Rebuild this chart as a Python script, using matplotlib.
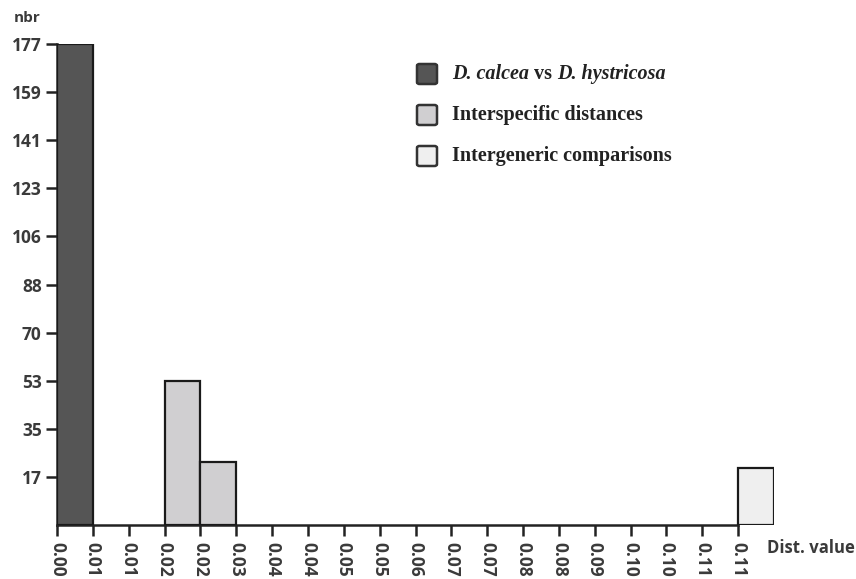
import numpy as np
import matplotlib.pyplot as plt
from matplotlib.patches import FancyBboxPatch

# tick labels of the bin edges (rounded as printed)
edge_labels = ['0.00', '0.01', '0.01', '0.02', '0.02', '0.03', '0.04', '0.04',
               '0.05', '0.05', '0.06', '0.07', '0.07', '0.08', '0.08', '0.09',
               '0.10', '0.10', '0.11', '0.11']

# bins (index of left edge) and number of comparisons per group
calcea_bins = [0]
calcea_nbr = [177]
interspec_bins = [3, 4]
interspec_nbr = [53, 23]
intergen_bins = [19]
intergen_nbr = [21]

group_names = ['Interspecific distances', 'Intergeneric comparisons']
group_colors = ['#555555', '#d0cfd1', '#efefef']

y_max = 177
y_ticks = [y_max / 10 * k for k in range(1, 11)]

tick_font = 'Open Sans'
txt_col = '#3a3a3a'

fig = plt.figure(figsize=(8.56, 5.79), dpi=100)
ax = fig.add_axes([57 / 856, 1 - 525 / 579, (774 - 57) / 856, 481 / 579])

n_bins = len(edge_labels)
for bins, nbr, col in zip([calcea_bins, interspec_bins, intergen_bins],
                          [calcea_nbr, interspec_nbr, intergen_nbr],
                          group_colors):
    ax.bar(bins, nbr, width=1, align='edge', color=col,
           edgecolor='#1a1a1a', linewidth=1.6, zorder=3)

ax.set_xlim(0, n_bins)
ax.set_ylim(0, y_max)

for s in ['top', 'right']:
    ax.spines[s].set_visible(False)
ax.spines['bottom'].set_bounds(0, n_bins - 1)
for s in ['left', 'bottom']:
    ax.spines[s].set_linewidth(1.8)
    ax.spines[s].set_color('#222222')

ax.set_xticks(np.arange(n_bins))
ax.set_xticklabels(edge_labels, rotation=-90, family=tick_font,
                   fontsize=12.5, color=txt_col, weight='bold')
ax.set_yticks(y_ticks)
ax.set_yticklabels([str(int(v)) for v in y_ticks], family=tick_font,
                   fontsize=12.5, color=txt_col, weight='bold')
ax.tick_params(axis='both', length=8, width=1.8, color='#222222', pad=3)
ax.tick_params(axis='x', pad=4)

fig.text(14 / 856, 1 - 18 / 579, 'nbr', family=tick_font, fontsize=11,
         weight='bold', color=txt_col, va='center')
fig.text(767 / 856, 1 - 548 / 579, 'Dist. value', family=tick_font,
         fontsize=12, weight='bold', color=txt_col, va='center')

# legend drawn by hand (mixed italic / roman in the first entry)
ser = 'Liberation Serif'
leg_size = 14.5
rows_y = [74, 115, 156]
for ry, col in zip(rows_y, group_colors):
    fig.patches.append(FancyBboxPatch(
        (417 / 856, 1 - (ry + 10) / 579), 20 / 856, 20 / 579,
        boxstyle='round,pad=0,rounding_size=0.003', transform=fig.transFigure,
        facecolor=col, edgecolor='#333333', linewidth=1.8))

t1 = fig.text(452 / 856, 1 - rows_y[0] / 579, 'D. calcea', family=ser,
              fontsize=leg_size, weight='bold', style='italic',
              color='#222222', va='center')
t2 = ax.annotate(' vs ', xy=(1, 0), xycoords=t1, ha='left', va='bottom',
                 family=ser, fontsize=leg_size, weight='bold',
                 color='#222222', annotation_clip=False)
ax.annotate('D. hystricosa', xy=(1, 0), xycoords=t2, ha='left',
            va='bottom', family=ser, fontsize=leg_size, weight='bold',
            style='italic', color='#222222', annotation_clip=False)

for ry, name in zip(rows_y[1:], group_names):
    fig.text(452 / 856, 1 - ry / 579, name, family=ser, fontsize=leg_size,
             weight='bold', color='#222222', va='center')

fig.savefig('out.png', dpi=100)
